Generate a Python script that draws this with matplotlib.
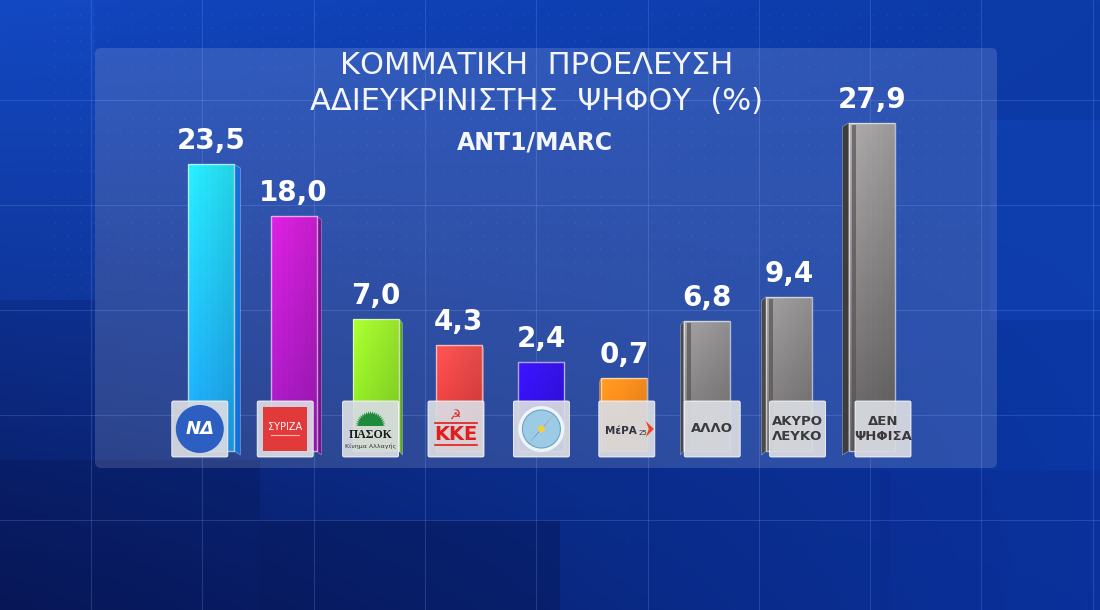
import numpy as np
import matplotlib.pyplot as plt
from matplotlib.patches import Rectangle, Polygon, FancyBboxPatch, Ellipse
from matplotlib.colors import to_rgb

# ---- Chart content ----
title_lines = ["ΚΟΜΜΑΤΙΚΗ  ΠΡΟΕΛΕΥΣΗ", "ΑΔΙΕΥΚΡΙΝΙΣΤΗΣ  ΨΗΦΟΥ  (%)"]
source = "ANT1/MARC"
parties = ["ΝΔ", "ΣΥΡΙΖΑ", "ΠΑΣΟΚ", "ΚΚΕ", "ΕΛΛΗΝΙΚΗ ΛΥΣΗ", "ΜέΡΑ25",
           "ΑΛΛΟ", "ΑΚΥΡΟ\nΛΕΥΚΟ", "ΔΕΝ\nΨΗΦΙΣΑ"]
values = [23.5, 18.0, 7.0, 4.3, 2.4, 0.7, 6.8, 9.4, 27.9]
top_colors = ["#26e2f4", "#d21fd8", "#a2f22e", "#f25050", "#3a14f2", "#ff9420",
              "#9a9898", "#9a9898", "#a4a2a2"]
bottom_colors = ["#1c9cee", "#9a18b8", "#7ed420", "#d83232", "#2a0ce0", "#f07a10",
                 "#6e6c6c", "#6e6c6c", "#5e5c5c"]
side_colors = ["#1670dc", "#761290", "#5aa818", "#a82020", "#2008b0", "#c05a08",
               "#4a4848", "#4a4848", "#3e3c3c"]

# pixel geometry of the original graphic (1100 x 610)
W, H = 1100, 610
X0_PX, STEP_PX = 211, 82.6      # centre of first bar, spacing
BASE_PX, UNIT_PX = 385, 9.4     # baseline row, pixels per percentage point
PX = 1 / STEP_PX
PY = 1 / UNIT_PX

fig = plt.figure(figsize=(11, 6.1), dpi=100)

# ---- Background (pixel coordinates) ----
bg = fig.add_axes([0, 0, 1, 1])
bg.set_xlim(0, W)
bg.set_ylim(H, 0)
bg.axis("off")

yy, xx = np.mgrid[0:1:120j, 0:1:200j]
tl, tr = np.array(to_rgb("#1246c0")), np.array(to_rgb("#0c3aa6"))
bl, br = np.array(to_rgb("#08185a")), np.array(to_rgb("#0a36a4"))
grad = ((1 - xx)[..., None] * (1 - yy)[..., None] * tl + xx[..., None] * (1 - yy)[..., None] * tr
        + (1 - xx)[..., None] * yy[..., None] * bl + xx[..., None] * yy[..., None] * br)
bg.imshow(grad, extent=[0, W, H, 0], aspect="auto", zorder=0)

# a few soft blocks in the backdrop
for (x, y, w, h, c, a) in [(0, 0, 95, 300, "#1a56d4", 0.2), (990, 120, 110, 200, "#1448c0", 0.35),
                           (880, 470, 220, 140, "#0a2a90", 0.4), (260, 520, 300, 90, "#06124a", 0.35),
                           (630, 470, 260, 140, "#0a2a8a", 0.3), (0, 460, 260, 150, "#061450", 0.3)]:
    bg.add_patch(Rectangle((x, y), w, h, color=c, alpha=a, lw=0, zorder=1))

# thin grid lines
for gx in np.arange(91, W, 111.3):
    bg.axvline(gx, color="#6f95e6", lw=0.8, alpha=0.25, zorder=2)
for gy in np.arange(100, H, 105):
    bg.axhline(gy, color="#6f95e6", lw=0.8, alpha=0.25, zorder=2)

# faint dot pattern
dx, dy = np.meshgrid(np.arange(55, 990, 13), np.arange(15, 300, 13))
bg.scatter(dx.ravel(), dy.ravel(), s=3, marker="s", color="#7aa0ff", alpha=0.07, lw=0, zorder=2)

# translucent panel
bg.add_patch(FancyBboxPatch((95, 48), 902, 420, boxstyle="round,pad=0,rounding_size=6",
                            facecolor="white", alpha=0.14, lw=0, zorder=3))

# titles
for k, line in enumerate(title_lines):
    bg.text(537, 66 + 35 * k, line, ha="center", va="center", color="#f4f6fb",
            fontsize=22, fontfamily="DejaVu Sans", fontweight="normal", zorder=5)
bg.text(535, 143, source, ha="center", va="center", color="#f4f6fb",
        fontsize=17, fontfamily="DejaVu Sans", fontweight="bold", zorder=5)

# ---- Bars (data coordinates) ----
ax = fig.add_axes([0, 0, 1, 1])
ax.patch.set_alpha(0)
xlim = (-X0_PX * PX, (W - X0_PX) * PX)
ylim = (-(H - BASE_PX) * PY, BASE_PX * PY)
ax.axis("off")

x = np.arange(len(values))
below = 66 * PY                      # bars run on behind the logo tiles
bar_w = 46 * PX
bars = ax.bar(x, np.array(values) + below, bottom=-below, width=bar_w,
              color="none", edgecolor="none", zorder=3)

for i, rect in enumerate(bars):
    x0, y0 = rect.get_x(), rect.get_y()
    x1, y1 = x0 + rect.get_width(), y0 + rect.get_height()
    # side face (perspective: right for the left bars, left for the grey ones)
    d = (4 - i) * 1.6 * PX
    s = 4 * PY
    if abs(d) > 1e-9:
        xe = x1 if d > 0 else x0
        ax.add_patch(Polygon([(xe, y0), (xe + d, y0 - s), (xe + d, y1 - s), (xe, y1)],
                             closed=True, facecolor=side_colors[i],
                             edgecolor=(1, 1, 1, 0.35), lw=0.6, zorder=2.9))
    # vertical gradient on the front face
    c_top, c_bot = np.array(to_rgb(top_colors[i])), np.array(to_rgb(bottom_colors[i]))
    t = np.linspace(0, 1, 64)[:, None, None]
    g = c_top * (1 - t) + c_bot * t
    g = np.repeat(g, 8, axis=1)
    shade = np.linspace(1.06, 0.94, 8)[None, :, None]
    g = np.clip(g * shade, 0, 1)
    im = ax.imshow(g, extent=[x0, x1, y0, y1], aspect="auto", zorder=3)
    clip = Rectangle((x0, y0), x1 - x0, y1 - y0, transform=ax.transData)
    im.set_clip_path(clip)
    ax.add_patch(Rectangle((x0, y0), x1 - x0, y1 - y0, facecolor="none",
                           edgecolor=(1, 1, 1, 0.6), lw=1.0, zorder=3.2))
    if i >= 6:
        # darker inner strip on the grey bars
        ax.add_patch(Rectangle((x0 + 3 * PX, y0), 4 * PX, y1 - y0 - 2 * PY,
                               facecolor="#555353", edgecolor="none", alpha=0.7, zorder=3.1))

    # value label
    ax.text(x[i], values[i] + 9 * PY, f"{values[i]:.1f}".replace(".", ","),
            ha="center", va="bottom", color="white", fontsize=20,
            fontfamily="DejaVu Sans", fontweight="bold", zorder=6)

# ---- Logo tiles ----
tile = 56
cy = -(429 - BASE_PX) * PY
for i, name in enumerate(parties):
    cx = x[i] + (i - 4) * 2.8 * PX
    ax.add_patch(FancyBboxPatch((cx - tile / 2 * PX, cy - tile / 2 * PY), tile * PX, tile * PY,
                                boxstyle="round,pad=0,rounding_size=0.02",
                                facecolor="#d9dce2", edgecolor=(1, 1, 1, 0.5), lw=0.6,
                                alpha=0.93, zorder=4, mutation_aspect=PY / PX))
    if i == 0:
        ax.add_patch(Ellipse((cx, cy), 48 * PX, 48 * PY, facecolor="#2d5fc2", edgecolor="none", zorder=5))
        ax.text(cx, cy, "ΝΔ", ha="center", va="center", color="white", fontsize=13,
                fontweight="bold", style="italic", zorder=6)
    elif i == 1:
        ax.add_patch(Rectangle((cx - 22 * PX, cy - 22 * PY), 44 * PX, 44 * PY,
                               facecolor="#e23a3a", edgecolor="none", zorder=5))
        ax.text(cx, cy + 2 * PY, "ΣΥΡΙΖΑ", ha="center", va="center", color="white",
                fontsize=7, zorder=6)
        ax.plot([cx - 14 * PX, cx + 14 * PX], [cy - 6 * PY] * 2, color="#ffb0b0", lw=0.8, zorder=6)
    elif i == 2:
        ang = np.linspace(0, np.pi, 41)
        rad = np.where(np.arange(41) % 2 == 0, 15, 12)
        pts = [(cx + r * np.cos(a) * PX, cy + (3 + r * np.sin(a)) * PY) for r, a in zip(rad, ang)]
        ax.add_patch(Polygon(pts, closed=True, facecolor="#1e8a3c", edgecolor="none", zorder=5))
        ax.text(cx, cy - 6 * PY, "ΠΑΣΟΚ", ha="center", va="center", color="#1a1a1a",
                fontsize=8.5, fontfamily="Liberation Serif", fontweight="bold", zorder=6)
        ax.text(cx, cy - 17 * PY, "Κίνημα Αλλαγής", ha="center", va="center", color="#333333",
                fontsize=4.5, zorder=6)
    elif i == 3:
        ax.text(cx, cy - 5 * PY, "ΚΚΕ", ha="center", va="center", color="#e01e1e",
                fontsize=14, fontweight="bold", zorder=6)
        for off in (-16, 6):
            ax.plot([cx - 21 * PX, cx + 21 * PX], [cy + off * PY] * 2, color="#e01e1e", lw=1.2, zorder=6)
        ax.text(cx, cy + 13 * PY, "☭", ha="center", va="center", color="#e01e1e",
                fontsize=9, fontfamily="DejaVu Sans", zorder=6)
    elif i == 4:
        ax.add_patch(Ellipse((cx, cy), 46 * PX, 46 * PY, facecolor="#eef4f8", edgecolor="none", zorder=5))
        ax.add_patch(Ellipse((cx, cy), 38 * PX, 38 * PY, facecolor="#9ccbe6", edgecolor="#6aa2c8",
                             lw=0.8, zorder=5))
        ax.add_patch(Polygon([(cx + 2 * PX, cy + 2 * PY), (cx + 14 * PX, cy + 16 * PY),
                              (cx - 2 * PX, cy - 2 * PY)], facecolor="#e03030", zorder=6))
        ax.add_patch(Polygon([(cx - 2 * PX, cy - 2 * PY), (cx - 14 * PX, cy - 16 * PY),
                              (cx + 2 * PX, cy + 2 * PY)], facecolor="#1a2a80", zorder=6))
        ax.add_patch(Ellipse((cx, cy), 7 * PX, 7 * PY, facecolor="#f0d040", edgecolor="none", zorder=6))
    elif i == 5:
        ax.text(cx - 6 * PX, cy - 2 * PY, "ΜέΡΑ", ha="center", va="center", color="#303040",
                fontsize=7.5, fontweight="bold", zorder=6)
        ax.text(cx + 12 * PX, cy - 4 * PY, "25", ha="left", va="center", color="#303040",
                fontsize=5, zorder=6)
        ax.add_patch(Polygon([(cx + 19 * PX, cy + 8 * PY), (cx + 27 * PX, cy), (cx + 19 * PX, cy - 8 * PY),
                              (cx + 22 * PX, cy)], facecolor="#f04020", edgecolor="none", zorder=6))
    else:
        ax.text(cx, cy, name, ha="center", va="center", color="#3a3a3c", fontsize=9.5,
                fontweight="bold", linespacing=1.15, zorder=6)

ax.set_xlim(*xlim)
ax.set_ylim(*ylim)

fig.savefig("out.png", dpi=100)
